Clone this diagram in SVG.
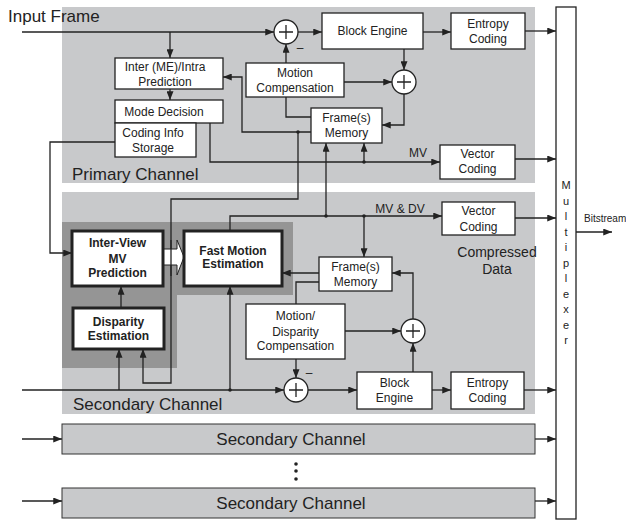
<svg xmlns="http://www.w3.org/2000/svg" width="626" height="521" viewBox="0 0 626 521">
<defs>
<style>
.bg{fill:#c8c9cb}
.dk{fill:#959595}
.box{fill:#fff;stroke:#222;stroke-width:1.3}
.tb{fill:#fff;stroke:#222;stroke-width:3}
.ln{fill:none;stroke:#222;stroke-width:1.3}
.t{font-family:"Liberation Sans",Arial,sans-serif;font-size:12px;fill:#222;text-anchor:middle}
.b{font-weight:bold}
.big{font-family:"Liberation Sans",Arial,sans-serif;font-size:17px;fill:#222}
.dot{fill:#222}
</style>
<marker id="a" viewBox="0 0 10 8" refX="10" refY="4" markerWidth="9" markerHeight="7" markerUnits="userSpaceOnUse" orient="auto"><path d="M0,0L10,4L0,8z" fill="#222"/></marker>
</defs>
<rect class="bg" x="62" y="7" width="473" height="176"/>
<rect class="bg" x="62" y="192" width="473" height="222"/>
<path class="dk" d="M62,222H293V295H177V368H62z"/>
<text class="big" x="8" y="22">Input Frame</text>
<text class="big" x="72" y="180">Primary Channel</text>
<text class="big" x="73" y="410">Secondary Channel</text>

<g id="connectors">
<path class="ln" d="M22,32H274" marker-end="url(#a)"/>
<path class="ln" d="M170,32V58" marker-end="url(#a)"/>
<path class="ln" d="M170,89V100" marker-end="url(#a)"/>
<path class="ln" d="M298,32H322" marker-end="url(#a)"/>
<path class="ln" d="M423,32H451" marker-end="url(#a)"/>
<path class="ln" d="M525,31H556" marker-end="url(#a)"/>
<path class="ln" d="M404,49V70" marker-end="url(#a)"/>
<path class="ln" d="M344,82H392" marker-end="url(#a)"/>
<path class="ln" d="M404,94V125H382" marker-end="url(#a)"/>
<path class="ln" d="M286,63V44" marker-end="url(#a)"/>
<path class="ln" d="M286,97V117H311"/>
<path class="ln" d="M311,132H242V77H223" marker-end="url(#a)"/>
<path class="ln" d="M298,132V199H171V383H143V349" marker-end="url(#a)"/>
<path class="ln" d="M210,123V162H440" marker-end="url(#a)"/>
<path class="ln" d="M364,162V143" marker-end="url(#a)"/>
<path class="ln" d="M326,216V143" marker-end="url(#a)"/>
<path class="ln" d="M115,142H50V253H72" marker-end="url(#a)"/>
<path class="ln" d="M515,159H556" marker-end="url(#a)"/>
<path class="ln" d="M230,231V216H442" marker-end="url(#a)"/>
<path class="ln" d="M364,216V257" marker-end="url(#a)"/>
<path class="ln" d="M319,273H282" marker-end="url(#a)"/>
<path class="ln" d="M319,282H296V304"/>
<path class="ln" d="M345,331H401" marker-end="url(#a)"/>
<path class="ln" d="M413,319V273H392" marker-end="url(#a)"/>
<path class="ln" d="M413,372V343" marker-end="url(#a)"/>
<path class="ln" d="M296,359V378" marker-end="url(#a)"/>
<path class="ln" d="M22,390H284" marker-end="url(#a)"/>
<path class="ln" d="M230,390V286" marker-end="url(#a)"/>
<path class="ln" d="M119,390V349" marker-end="url(#a)"/>
<path class="ln" d="M308,390H357" marker-end="url(#a)"/>
<path class="ln" d="M432,390H451" marker-end="url(#a)"/>
<path class="ln" d="M524,390H556" marker-end="url(#a)"/>
<path class="ln" d="M515,218H556" marker-end="url(#a)"/>
<path class="ln" d="M121,308V286" marker-end="url(#a)"/>
<path class="ln" d="M576,232H612" marker-end="url(#a)"/>
<path class="ln" d="M22,439H62" marker-end="url(#a)"/>
<path class="ln" d="M535,439H556" marker-end="url(#a)"/>
<path class="ln" d="M22,501H62" marker-end="url(#a)"/>
<path class="ln" d="M535,501H556" marker-end="url(#a)"/>
<circle class="dot" cx="298" cy="132" r="1.8"/>
<circle class="dot" cx="364" cy="162" r="1.8"/>
<circle class="dot" cx="326" cy="216" r="1.8"/>
<circle class="dot" cx="364" cy="216" r="1.8"/>
<circle class="dot" cx="230" cy="390" r="1.8"/>
<text class="t" x="418" y="157">MV</text>
<text class="t" x="400" y="213">MV &amp; DV</text>
<text class="t" x="300" y="52">–</text>
<text class="t" x="309" y="377">–</text>
</g>

<g id="sum1"><circle class="box" cx="286" cy="32" r="12"/><path class="ln" d="M279,32H293M286,25V39"/></g>
<g id="sum2"><circle class="box" cx="404" cy="82" r="12"/><path class="ln" d="M397,82H411M404,75V89"/></g>
<g id="sum3"><circle class="box" cx="296" cy="390" r="12"/><path class="ln" d="M289,390H303M296,383V397"/></g>
<g id="sum4"><circle class="box" cx="413" cy="331" r="12"/><path class="ln" d="M406,331H420M413,324V338"/></g>

<g id="block-engine-p"><rect class="box" x="322" y="13" width="101" height="36"/><text class="t" x="372.5" y="35">Block Engine</text></g>
<g id="entropy-p"><rect class="box" x="451" y="13" width="74" height="36"/><text class="t" x="488" y="28">Entropy</text><text class="t" x="488" y="43">Coding</text></g>
<g id="inter-intra"><rect class="box" x="115" y="58" width="108" height="31"/><text class="t" x="165" y="71">Inter (ME)/Intra</text><text class="t" x="165" y="86">Prediction</text></g>
<g id="motion-comp"><rect class="box" x="246" y="63" width="98" height="34"/><text class="t" x="295" y="77">Motion</text><text class="t" x="295" y="92">Compensation</text></g>
<g id="mode-decision"><rect class="box" x="115" y="100" width="108" height="23"/><text class="t" x="164" y="116">Mode Decision</text></g>
<g id="coding-info"><rect class="box" x="115" y="123" width="81" height="34"/><text class="t" x="153" y="137">Coding Info</text><text class="t" x="153" y="152">Storage</text></g>
<g id="memory-p"><rect class="box" x="311" y="108" width="71" height="35"/><text class="t" x="346.5" y="122">Frame(s)</text><text class="t" x="346.5" y="137">Memory</text></g>
<g id="vector-p"><rect class="box" x="440" y="145" width="75" height="34"/><text class="t" x="477.5" y="158">Vector</text><text class="t" x="477.5" y="173">Coding</text></g>

<g id="inter-view"><rect class="tb" x="72" y="231" width="91" height="55"/><text class="t b" x="117.5" y="247">Inter-View</text><text class="t b" x="117.5" y="263">MV</text><text class="t b" x="117.5" y="277">Prediction</text></g>
<g id="disparity"><rect class="tb" x="73" y="308" width="91" height="41"/><text class="t b" x="118.5" y="326">Disparity</text><text class="t b" x="118.5" y="340">Estimation</text></g>
<g id="hollow-arrow"><path d="M164,249H177V240L184,257L177,275V265H164z" fill="#fff" stroke="#222" stroke-width="1"/><path class="ln" d="M171,240V276"/></g>
<g id="fast-me"><rect class="tb" x="184" y="231" width="98" height="55"/><text class="t b" x="233" y="255">Fast Motion</text><text class="t b" x="233" y="268">Estimation</text></g>
<g id="vector-s"><rect class="box" x="442" y="202" width="73" height="33"/><text class="t" x="478.5" y="215">Vector</text><text class="t" x="478.5" y="231">Coding</text></g>
<text class="t" x="497" y="257" style="font-size:14px">Compressed</text>
<text class="t" x="497" y="274" style="font-size:14px">Data</text>
<g id="memory-s"><rect class="box" x="319" y="257" width="73" height="34"/><text class="t" x="355.5" y="271">Frame(s)</text><text class="t" x="355.5" y="286">Memory</text></g>
<g id="md-comp"><rect class="box" x="246" y="304" width="99" height="55"/><text class="t" x="295.5" y="320">Motion/</text><text class="t" x="295.5" y="336">Disparity</text><text class="t" x="295.5" y="350">Compensation</text></g>
<g id="block-engine-s"><rect class="box" x="357" y="372" width="75" height="37"/><text class="t" x="394.5" y="387">Block</text><text class="t" x="394.5" y="402">Engine</text></g>
<g id="entropy-s"><rect class="box" x="451" y="372" width="73" height="37"/><text class="t" x="487.5" y="387">Entropy</text><text class="t" x="487.5" y="402">Coding</text></g>

<g id="secondary-2"><rect class="bg" x="62" y="424" width="473" height="30" stroke="#333" stroke-width="1"/><text class="big" x="291" y="445" text-anchor="middle">Secondary Channel</text></g>
<g id="secondary-n"><rect class="bg" x="62" y="488" width="473" height="30" stroke="#333" stroke-width="1"/><text class="big" x="291" y="509" text-anchor="middle">Secondary Channel</text></g>
<g id="ellipsis"><circle class="dot" cx="296" cy="464" r="1.8"/><circle class="dot" cx="296" cy="471" r="1.8"/><circle class="dot" cx="296" cy="479" r="1.8"/></g>

<g id="multiplexer"><rect class="box" x="556" y="7" width="20" height="512"/>
<text class="t" x="566" y="189" style="font-size:11px">M</text><text class="t" x="566" y="204.5" style="font-size:11px">u</text><text class="t" x="566" y="220" style="font-size:11px">l</text><text class="t" x="566" y="235.5" style="font-size:11px">t</text><text class="t" x="566" y="251" style="font-size:11px">i</text><text class="t" x="566" y="266.5" style="font-size:11px">p</text><text class="t" x="566" y="282" style="font-size:11px">l</text><text class="t" x="566" y="297.5" style="font-size:11px">e</text><text class="t" x="566" y="313" style="font-size:11px">x</text><text class="t" x="566" y="328.5" style="font-size:11px">e</text><text class="t" x="566" y="344" style="font-size:11px">r</text></g>
<text class="t" x="584" y="222" style="font-size:10px;text-anchor:start">Bitstream</text>
</svg>
